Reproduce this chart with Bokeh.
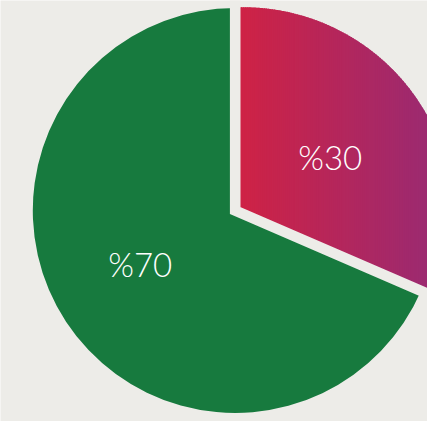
import numpy as np
from bokeh.plotting import figure
from bokeh.models import Range1d, ColumnDataSource
from bokeh.core.properties import value
from bokeh.embed import file_html
from bokeh.resources import INLINE

# ---- data ----
categories = ["A", "B"]
shares = [31.5, 68.5]          # slice sizes as drawn
labels = ["%30", "%70"]
slice_colors = ["#d02244", "#177a3e"]
gradient_end = "#9c2a70"

BG = "#edece8"
W, H = 443, 437                 # reference canvas units
CX, CY = 243.5, H - 218         # pie centre
R = 210
RCX, RCY, RR = 252.0, H - 225, 218.0   # outer arc of the pulled-out slice
PW, PH = 427, 421
SCALE = PW / W
GAP = 11 * SCALE

p = figure(width=PW, height=PH, output_backend="svg", toolbar_location=None,
           x_range=Range1d(0, W), y_range=Range1d(0, H),
           x_axis_location=None, y_axis_location=None, min_border=0)
p.background_fill_color = BG
p.border_fill_color = BG
p.outline_line_color = None
p.grid.visible = False

fr = np.array(shares) / sum(shares)
starts = np.pi / 2 - np.concatenate([[0], np.cumsum(fr)[:-1]]) * 2 * np.pi
ends = starts - fr * 2 * np.pi

# green slice (solid)
p.wedge(x=CX, y=CY, radius=R, start_angle=float(ends[1]), end_angle=float(starts[1]),
        direction="anticlock", fill_color=slice_colors[1], line_color=None)

# red slice with horizontal gradient, built from thin vertical strips
def hex2rgb(h):
    h = h.lstrip("#")
    return np.array([int(h[i:i + 2], 16) for i in (0, 2, 4)], dtype=float)

c0, c1 = hex2rgb(slice_colors[0]), hex2rgb(gradient_end)
a_end = ends[0]
xs_list, ys_list, cols = [], [], []
step = 2.0
x = CX
xmax = RCX + RR
while x < xmax:
    xa, xb = x, min(x + step + 1.0, xmax)
    pts_x = np.linspace(xa, xb, 4)
    half = np.sqrt(np.clip(RR**2 - (pts_x - RCX) ** 2, 0, None))
    up = RCY + half
    low = np.maximum(CY + np.tan(a_end) * (pts_x - CX), RCY - half)
    if np.any(up > low):
        low = np.minimum(low, up)
        xs_list.append(list(pts_x) + list(pts_x[::-1]))
        ys_list.append(list(up) + list(low[::-1]))
        t = (x + step / 2 - CX) / (W - CX)
        c = c0 + (c1 - c0) * t
        cols.append("#%02x%02x%02x" % tuple(int(round(v)) for v in np.clip(c, 0, 255)))
    x += step
p.patches(xs=xs_list, ys=ys_list, fill_color=cols, line_color=None)

# gap between slices
ext = R + 40
gx = [CX + ext * np.cos(starts[0]), CX, CX + ext * np.cos(ends[0])]
gy = [CY + ext * np.sin(starts[0]), CY, CY + ext * np.sin(ends[0])]
p.line(gx, gy, line_color=BG, line_width=GAP, line_join="miter")

# labels
mids = (starts + ends) / 2 - np.deg2rad(4)
lr = 113
src = ColumnDataSource(dict(x=CX + lr * np.cos(mids), y=CY + lr * np.sin(mids), t=labels))
p.text(x="x", y="y", text="t", source=src, text_align="center", text_baseline="middle",
       text_color="white", text_font=value("Lato Light"), text_font_size="33px")

open("out.html", "w").write(file_html(p, INLINE))
